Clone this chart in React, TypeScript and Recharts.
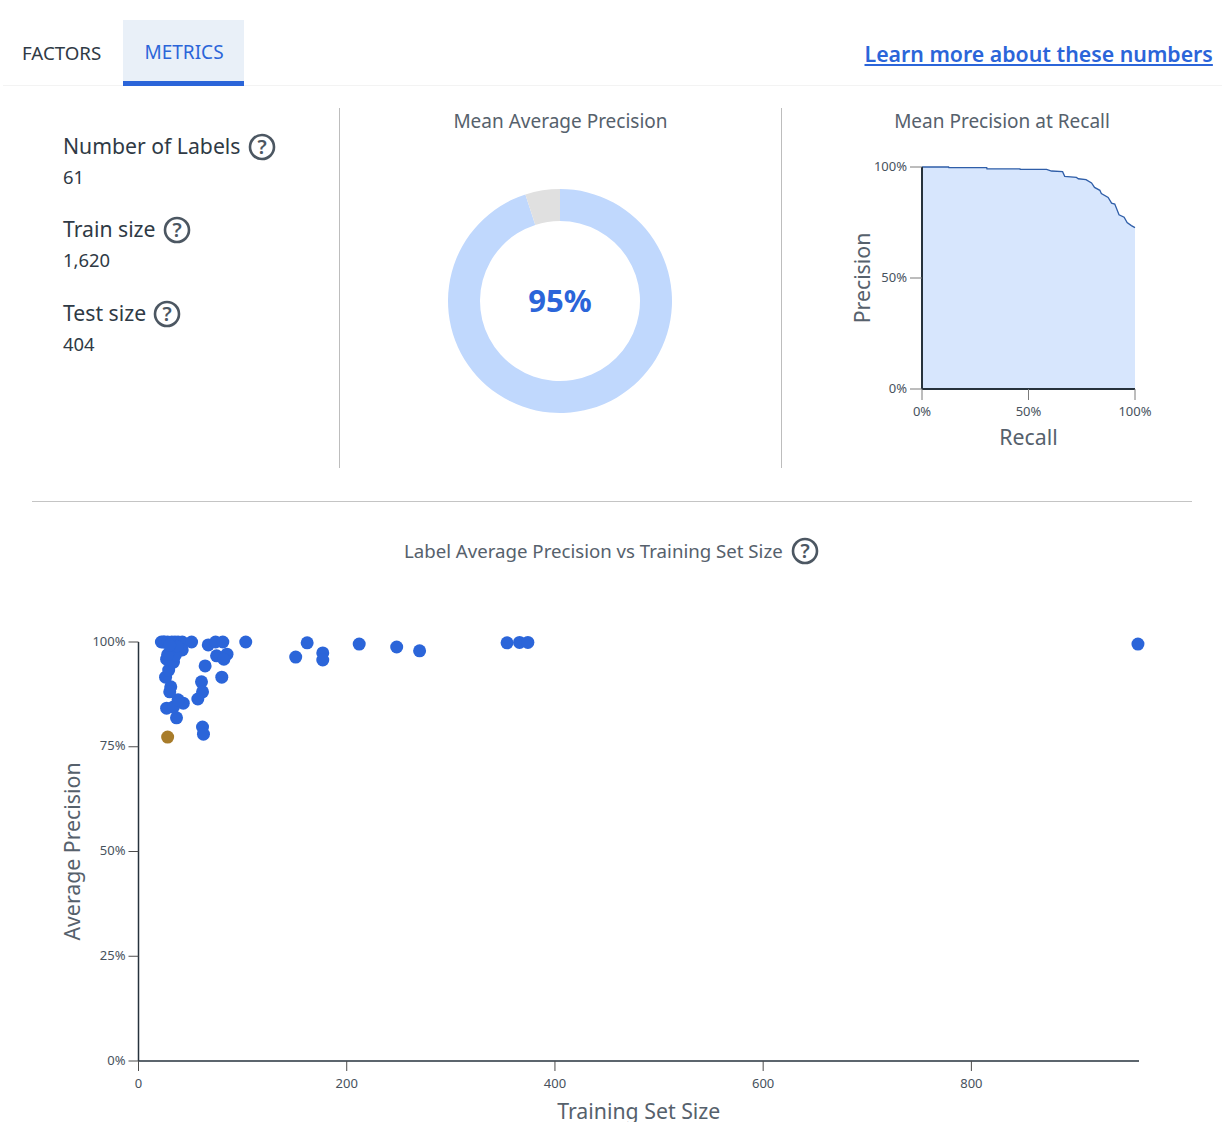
import React from 'react';
import {
  Area,
  AreaChart,
  Cell,
  Label,
  Pie,
  PieChart,
  Scatter,
  ScatterChart,
  XAxis,
  YAxis,
} from 'recharts';

const FONT = '"Noto Sans", sans-serif';
const BLUE = '#2b65d9';
const TEXT = '#2f3a45';
const MUTED = '#56616c';

const statLabels = ['Number of Labels', 'Train size', 'Test size'];
const statValues = ['61', '1,620', '404'];

const meanPrecision = [95, 5];

const recall = [0, 12.5, 12.6, 30.4, 30.5, 46, 46.1, 58.5, 60.8, 66, 67, 72.5, 73.4, 77, 79.6, 81, 83.5, 84.2, 87.4, 89, 90.5, 92.5, 94.9, 96.3, 98.3, 100];
const precision = [100, 100, 99.7, 99.7, 99.2, 99.2, 98.9, 98.9, 98.2, 97.9, 95.8, 95.3, 94.7, 94.3, 92.8, 90.8, 89.5, 88, 86.3, 83.7, 83.3, 78.5, 77.4, 75, 73.6, 72.7];

const trainSizes = [22, 24, 25, 28, 32, 35, 38, 42, 51, 67, 74, 81, 103, 75, 85, 82, 64, 80, 60.5, 61.5, 57, 61.5, 62.4, 36.5, 27, 33.6, 43, 38, 31, 30, 26, 29, 27, 33.6, 31, 42, 35.5, 37, 28, 30, 151, 162, 177, 177, 212, 248, 270, 354, 366, 374, 960];
const avgPrecisions = [100, 100, 100, 100, 100, 100, 100, 100, 100, 99.3, 100, 100, 100, 96.7, 97.1, 95.9, 94.3, 91.6, 90.5, 88.1, 86.4, 79.7, 78, 81.9, 84.2, 84.5, 85.4, 86.2, 89.3, 88.1, 91.6, 93.3, 95.9, 95.2, 98.1, 98.1, 96.9, 99, 97, 99.3, 96.4, 99.8, 97.4, 95.7, 99.5, 98.8, 97.9, 99.8, 99.9, 99.9, 99.5];

const outlierSize = [28];
const outlierPrecision = [77.3];

const xTicks = [0, 200, 400, 600, 800];
const yTicks = [0, 25, 50, 75, 100];
const smallTicks = [0, 50, 100];

const curveData = recall.map((r, i) => ({ recall: r, precision: precision[i] }));
const pieData = meanPrecision.map((value) => ({ value }));
const pointData = trainSizes.map((size, i) => ({ size, ap: avgPrecisions[i] }));
const outlierData = outlierSize.map((size, i) => ({ size, ap: outlierPrecision[i] }));

const pct = (v: number) => `${v}%`;
const tickStyle = { fontFamily: FONT, fontSize: 13, fill: '#47525d' };
const yTickStyle = { ...tickStyle, dy: -1 };
const labelStyle = { fontFamily: FONT, fontSize: 21.3, fill: MUTED };

const at = (left: number, top: number, extra = {}) => ({
  position: 'absolute' as const,
  left,
  top,
  fontFamily: FONT,
  whiteSpace: 'nowrap' as const,
  ...extra,
});

const Help = ({ left, top }: { left: number; top: number }) => (
  <svg width={28} height={28} style={{ position: 'absolute', left, top }}>
    <circle cx={14} cy={14} r={12} fill="none" stroke="#4c5762" strokeWidth={2.6} />
    <text x={14} y={21} textAnchor="middle" fontFamily={FONT} fontWeight={600} fontSize={20} fill="#4c5762">?</text>
  </svg>
);

// round markers, the library's default symbol size is too small here
const Dot = (props: any) => <circle cx={props.cx} cy={props.cy} r={6.5} fill={props.fill} />;

const statTops = [131, 214, 298];
const helpLefts = [248, 163, 153];

export default function App() {
  return (
    <div style={{ position: 'absolute', left: 0, top: 0, width: 1222, height: 1122, background: '#fff', overflow: 'hidden' }}>
      <div style={{ position: 'absolute', left: 3, top: 85, width: 1219, height: 1, background: '#f3f3f3' }} />
      <div style={at(22, 40, { fontSize: 18.7, color: TEXT })}>FACTORS</div>
      <div style={{ position: 'absolute', left: 123, top: 20, width: 121, height: 61, background: '#e9f0f8', borderBottom: `5px solid ${BLUE}` }} />
      <div style={at(144.5, 39, { fontSize: 19, color: BLUE })}>METRICS</div>
      <div style={at(864.5, 38.5, { fontSize: 21.3, fontWeight: 600, color: BLUE, textDecoration: 'underline' })}>Learn more about these numbers</div>

      {statLabels.map((label, i) => (
        <React.Fragment key={label}>
          <div style={at(63, statTops[i], { fontSize: 21.2, color: TEXT })}>{label}</div>
          <Help left={helpLefts[i]} top={statTops[i] + 2} />
          <div style={at(63, statTops[i] + 32.5, { fontSize: 18.4, color: TEXT })}>{statValues[i]}</div>
        </React.Fragment>
      ))}

      <div style={{ position: 'absolute', left: 339, top: 108, width: 1, height: 360, background: '#bdbdbd' }} />
      <div style={{ position: 'absolute', left: 781, top: 108, width: 1, height: 360, background: '#bdbdbd' }} />
      <div style={{ position: 'absolute', left: 32, top: 501, width: 1160, height: 1, background: '#c4c4c4' }} />

      <div style={at(340, 108, { width: 441, textAlign: 'center', fontSize: 19, color: MUTED })}>Mean Average Precision</div>
      <div style={at(782, 108, { width: 440, textAlign: 'center', fontSize: 19, color: MUTED })}>Mean Precision at Recall</div>
      <div style={at(404, 538, { fontSize: 18.65, color: MUTED })}>Label Average Precision vs Training Set Size</div>
      <Help left={791} top={537} />

      <div style={{ position: 'absolute', left: 440, top: 181 }}>
        <PieChart width={240} height={240} margin={{ top: 0, right: 0, bottom: 0, left: 0 }}>
          <Pie
            data={pieData}
            dataKey="value"
            cx={120}
            cy={120}
            startAngle={90}
            endAngle={-270}
            innerRadius={80}
            outerRadius={112}
            stroke="none"
            isAnimationActive={false}
          >
            <Cell fill="#c0d8fd" />
            <Cell fill="#e0e0e0" />
            <Label
              value="95%"
              position="center"
              style={{ fontFamily: FONT, fontSize: 31, fontWeight: 700, fill: BLUE }}
            />
          </Pie>
        </PieChart>
      </div>

      <div style={{ position: 'absolute', left: 840, top: 150 }}>
        <AreaChart width={320} height={300} data={curveData} margin={{ top: 17, right: 25, bottom: 0, left: 22 }}>
          <XAxis
            type="number"
            dataKey="recall"
            domain={[0, 100]}
            ticks={smallTicks}
            tickFormatter={pct}
            tick={tickStyle}
            tickSize={11}
            tickMargin={7}
            height={61}
            axisLine={{ stroke: '#26323c', strokeWidth: 2 }}
            tickLine={{ stroke: '#7b7b7b' }}
          >
            <Label value="Recall" position="insideBottom" offset={5} style={labelStyle} />
          </XAxis>
          <YAxis
            type="number"
            domain={[0, 100]}
            ticks={smallTicks}
            tickFormatter={pct}
            tick={yTickStyle}
            tickSize={12}
            tickMargin={3}
            width={60}
            axisLine={{ stroke: '#26323c', strokeWidth: 2 }}
            tickLine={{ stroke: '#7b7b7b' }}
          >
            <Label value="Precision" angle={-90} position="insideLeft" offset={0} style={{ ...labelStyle, textAnchor: 'middle' }} />
          </YAxis>
          <Area
            type="linear"
            dataKey="precision"
            baseValue={0}
            stroke="#2f5ea8"
            strokeWidth={1.3}
            fill="#d7e6fd"
            fillOpacity={1}
            dot={false}
            isAnimationActive={false}
          />
        </AreaChart>
      </div>

      <div style={{ position: 'absolute', left: 0, top: 600 }}>
        <ScatterChart width={1222} height={522} margin={{ top: 42, right: 83, bottom: 0, left: 58.5 }}>
          <XAxis
            type="number"
            dataKey="size"
            domain={[0, 961]}
            ticks={xTicks}
            tick={tickStyle}
            tickSize={10}
            tickMargin={8}
            height={61}
            axisLine={{ stroke: '#26323c', strokeWidth: 1.5 }}
            tickLine={{ stroke: '#4c4c4c' }}
          >
            <Label value="Training Set Size" position="insideBottom" offset={3} style={labelStyle} />
          </XAxis>
          <YAxis
            type="number"
            dataKey="ap"
            domain={[0, 100]}
            ticks={yTicks}
            tickFormatter={pct}
            tick={yTickStyle}
            tickSize={10}
            tickMargin={3}
            width={80}
            axisLine={{ stroke: '#26323c', strokeWidth: 1.5 }}
            tickLine={{ stroke: '#4c4c4c' }}
          >
            <Label value="Average Precision" angle={-90} position="insideLeft" offset={14} style={{ ...labelStyle, textAnchor: 'middle' }} />
          </YAxis>
          <Scatter data={pointData} fill={BLUE} shape={Dot} isAnimationActive={false} />
          <Scatter data={outlierData} fill="#a87c2a" shape={Dot} isAnimationActive={false} />
        </ScatterChart>
      </div>
    </div>
  );
}
